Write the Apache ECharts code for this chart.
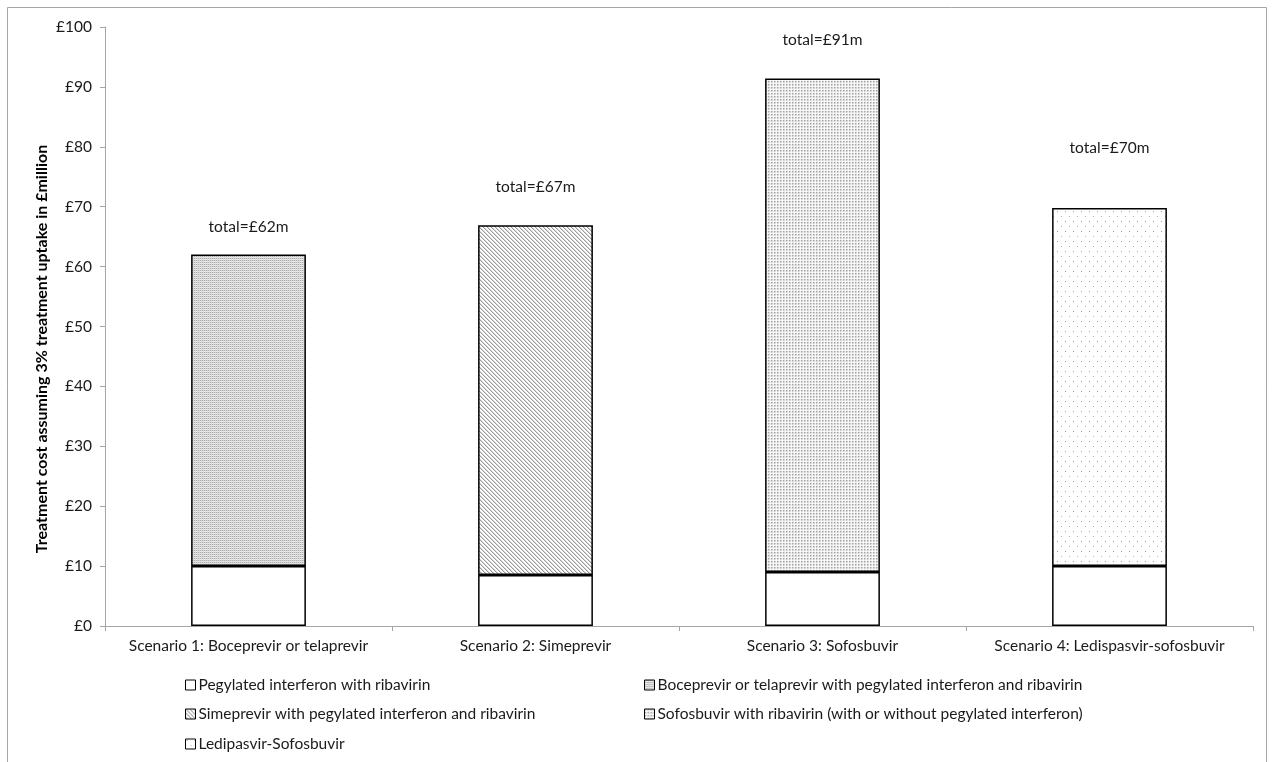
<!DOCTYPE html>
<html>
<head>
<meta charset="utf-8">
<title>Treatment cost by scenario</title>
<script src="https://cdn.jsdelivr.net/npm/echarts@6/dist/echarts.min.js"></script>
<style>
  html, body { margin: 0; padding: 0; background: #ffffff; }
  #chart { width: 1273px; height: 762px; }
</style>
</head>
<body>
<div id="chart"></div>
<script>
// Scenarios along the x axis
const scenarios = [
  'Scenario 1: Boceprevir or telaprevir',
  'Scenario 2: Simeprevir',
  'Scenario 3: Sofosbuvir',
  'Scenario 4: Ledispasvir-sofosbuvir'
];

// Cost in £ million per regimen, one value per scenario ('-' = not used)
const pegIntRiba      = [10.0, 8.5, 9.0, 10.0];
const bocepTelap      = [52.0, '-', '-', '-'];
const simeprevir      = ['-', 58.4, '-', '-'];
const sofosbuvir      = ['-', '-', 82.4, '-'];
const ledipasvirSofos = ['-', '-', '-', 59.8];

// Y-axis ticks
const yTicks = [0, 10, 20, 30, 40, 50, 60, 70, 80, 90, 100];

// Extra space (px) between each bar top and its total label
const totalLabelGap = [20, 30, 31, 52];

const FONT = 'Lato, "Noto Sans", sans-serif';
const TEXT = '#1a1a1a';

// Small repeating tiles used as bar fills
function makeTile(w, h, bg, pixels) {
  const c = document.createElement('canvas');
  c.width = w; c.height = h;
  const ctx = c.getContext('2d');
  ctx.fillStyle = bg;
  ctx.fillRect(0, 0, w, h);
  pixels.forEach(function (p) {
    ctx.fillStyle = p[2];
    ctx.fillRect(p[0], p[1], 1, 1);
  });
  return { image: c, repeat: 'repeat' };
}

const fillDotted = makeTile(2, 2, '#ffffff', [[0, 0, '#aaaaaa'], [1, 1, '#dcdcdc'], [1, 0, '#d6d6d6'], [0, 1, '#efefef']]);
const fillDiagonal = makeTile(4, 4, '#ffffff', [
  [0, 0, '#9a9a9a'], [1, 1, '#9a9a9a'], [2, 2, '#9a9a9a'], [3, 3, '#9a9a9a'],
  [1, 0, '#d8d8d8'], [2, 1, '#d8d8d8'], [3, 2, '#d8d8d8'], [0, 3, '#d8d8d8']
]);
const fillGrid = makeTile(3, 3, '#f2f2f2', [
  [0, 0, '#a4a4a4'], [1, 0, '#cccccc'], [0, 1, '#cccccc'], [2, 2, '#ffffff'], [1, 1, '#e2e2e2']
]);
const fillSparse = makeTile(8, 10, '#ffffff', [[1, 1, '#9c9c9c'], [5, 6, '#b8b8b8']]);

const totals = scenarios.map(function (_, i) {
  return [pegIntRiba, bocepTelap, simeprevir, sofosbuvir, ledipasvirSofos].reduce(function (s, arr) {
    return s + (typeof arr[i] === 'number' ? arr[i] : 0);
  }, 0);
});

function topSeries(name, values, fill) {
  return {
    name: name,
    type: 'bar',
    stack: 'cost',
    barWidth: '40%',
    itemStyle: { color: fill, borderColor: '#000000', borderWidth: 1.5 },
    emphasis: { disabled: true },
    data: values.map(function (v, i) {
      if (v === '-') return v;
      return {
        value: v,
        label: {
          show: true,
          position: 'top',
          distance: totalLabelGap[i],
          formatter: 'total=£' + Math.round(totals[i]) + 'm',
          fontFamily: FONT,
          fontSize: 15.5,
          color: TEXT
        }
      };
    })
  };
}

const seriesList = [
  {
    name: 'Pegylated interferon with ribavirin',
    type: 'bar',
    stack: 'cost',
    barWidth: '40%',
    itemStyle: { color: '#ffffff', borderColor: '#000000', borderWidth: 1.5 },
    emphasis: { disabled: true },
    data: pegIntRiba
  },
  topSeries('Boceprevir or telaprevir with pegylated interferon and ribavirin', bocepTelap, fillDotted),
  topSeries('Simeprevir with pegylated interferon and ribavirin', simeprevir, fillDiagonal),
  topSeries('Sofosbuvir with ribavirin (with or without pegylated interferon)', sofosbuvir, fillGrid),
  topSeries('Ledipasvir-Sofosbuvir', ledipasvirSofos, fillSparse)
];

// Legend placed as two columns below the axis
const legendSlots = [
  { name: seriesList[0].name, left: 185, top: 677 },
  { name: seriesList[1].name, left: 644, top: 677 },
  { name: seriesList[2].name, left: 185, top: 706 },
  { name: seriesList[3].name, left: 644, top: 706 },
  { name: seriesList[4].name, left: 185, top: 736 }
];

const chart = echarts.init(document.getElementById('chart'), null, { renderer: 'canvas' });

chart.setOption({
  animation: false,
  backgroundColor: '#ffffff',
  textStyle: { fontFamily: FONT },
  grid: { left: 105, right: 20, top: 27, bottom: 136, containLabel: false },
  graphic: [
    {
      type: 'rect',
      shape: { x: 7.5, y: 7.5, width: 1259, height: 780 },
      style: { fill: 'none', stroke: '#a6a6a6', lineWidth: 1 },
      silent: true
    },
    {
      type: 'text',
      x: 42,
      y: 349,
      rotation: Math.PI / 2,
      style: {
        text: 'Treatment cost assuming 3% treatment uptake in £million',
        font: 'bold 16px ' + FONT,
        fill: '#000000',
        align: 'center',
        verticalAlign: 'middle'
      },
      silent: true
    }
  ],
  legend: legendSlots.map(function (s) {
    return {
      data: [s.name],
      left: s.left,
      top: s.top,
      padding: 0,
      itemWidth: 10,
      itemHeight: 10,
      itemGap: 0,
      icon: 'rect',
      selectedMode: false,
      itemStyle: { borderColor: '#000000', borderWidth: 1 },
      textStyle: { fontFamily: FONT, fontSize: 15.5, color: TEXT, padding: [0, 0, 0, -2] }
    };
  }),
  xAxis: {
    type: 'category',
    data: scenarios,
    axisLine: { lineStyle: { color: '#a6a6a6', width: 1 } },
    axisTick: { show: true, length: 5, lineStyle: { color: '#a6a6a6' } },
    axisLabel: { fontFamily: FONT, fontSize: 15.5, color: TEXT, margin: 12, interval: 0 },
    splitLine: { show: false }
  },
  yAxis: {
    type: 'value',
    min: yTicks[0],
    max: yTicks[yTicks.length - 1],
    interval: yTicks[1] - yTicks[0],
    axisLine: { show: true, lineStyle: { color: '#a6a6a6', width: 1 } },
    axisTick: { show: true, length: 5, lineStyle: { color: '#a6a6a6' } },
    axisLabel: {
      fontFamily: FONT, fontSize: 15.5, color: TEXT, margin: 13,
      formatter: function (v) { return '£' + v; }
    },
    splitLine: { show: false }
  },
  series: seriesList
});
</script>
</body>
</html>
